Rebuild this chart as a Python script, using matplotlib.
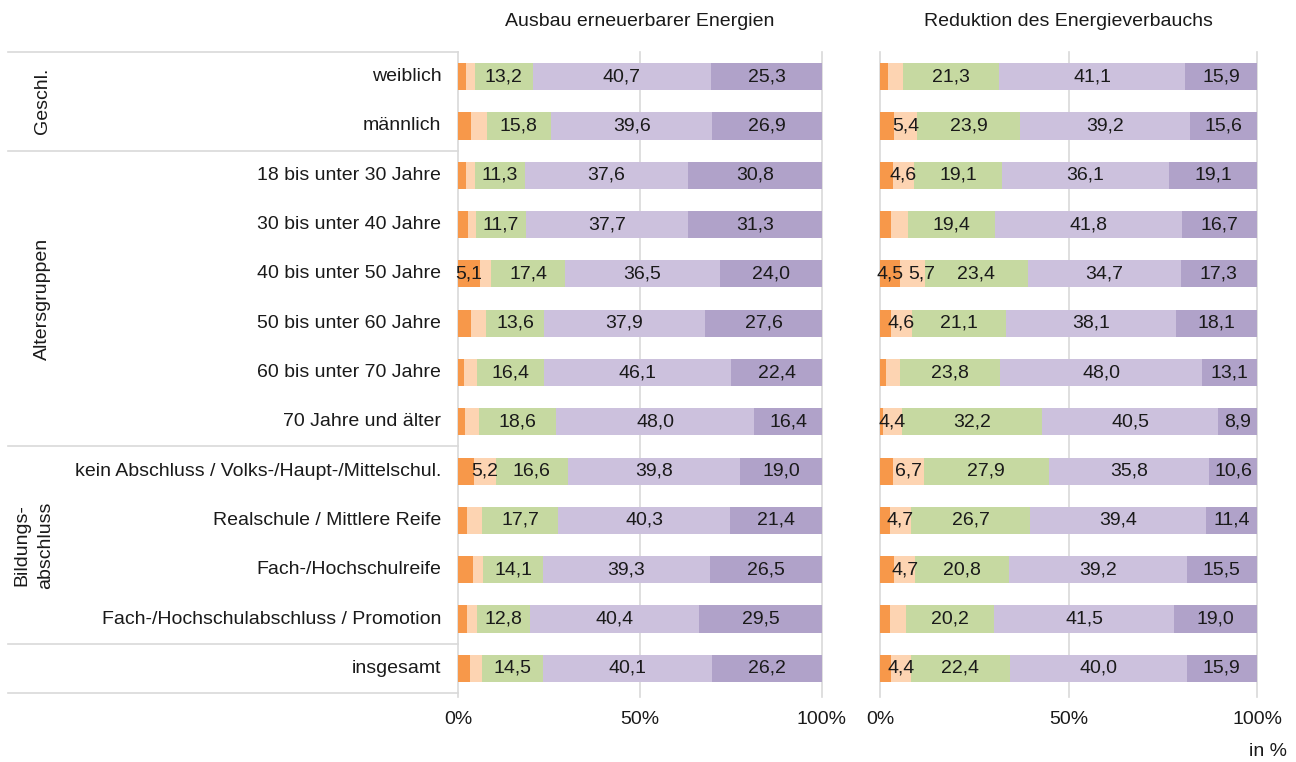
import matplotlib
matplotlib.use("Agg")
import matplotlib.pyplot as plt
import numpy as np

plt.rcParams['font.family'] = ['Liberation Sans', 'DejaVu Sans']

categories = [
    "weiblich", "männlich",
    "18 bis unter 30 Jahre", "30 bis unter 40 Jahre", "40 bis unter 50 Jahre",
    "50 bis unter 60 Jahre", "60 bis unter 70 Jahre", "70 Jahre und älter",
    "kein Abschluss / Volks-/Haupt-/Mittelschul.", "Realschule / Mittlere Reife",
    "Fach-/Hochschulreife", "Fach-/Hochschulabschluss / Promotion",
    "insgesamt",
]

groups = [("Geschl.", 0, 1), ("Altersgruppen", 2, 7), ("Bildungs-\nabschluss", 8, 11)]

titles = ["Ausbau erneuerbarer Energien", "Reduktion des Energieverbauchs"]

# five answer levels per row, left to right
ausbau_s1 = [1.9, 3.3, 1.9, 2.3, 5.1, 3.0, 1.4, 1.6, 3.6, 2.2, 3.5, 2.2, 2.8]
ausbau_s2 = [1.9, 3.7, 2.1, 1.8, 2.7, 3.7, 3.4, 3.5, 5.2, 3.5, 2.5, 2.3, 2.8]
ausbau_s3 = [13.2, 15.8, 11.3, 11.7, 17.4, 13.6, 16.4, 18.6, 16.6, 17.7, 14.1, 12.8, 14.5]
ausbau_s4 = [40.7, 39.6, 37.6, 37.7, 36.5, 37.9, 46.1, 48.0, 39.8, 40.3, 39.3, 40.4, 40.1]
ausbau_s5 = [25.3, 26.9, 30.8, 31.3, 24.0, 27.6, 22.4, 16.4, 19.0, 21.4, 26.5, 29.5, 26.2]

reduktion_s1 = [1.8, 3.2, 2.8, 2.5, 4.5, 2.5, 1.4, 0.7, 3.0, 2.2, 3.1, 2.3, 2.5]
reduktion_s2 = [3.3, 5.4, 4.6, 3.8, 5.7, 4.6, 3.4, 4.4, 6.7, 4.7, 4.7, 3.7, 4.4]
reduktion_s3 = [21.3, 23.9, 19.1, 19.4, 23.4, 21.1, 23.8, 32.2, 27.9, 26.7, 20.8, 20.2, 22.4]
reduktion_s4 = [41.1, 39.2, 36.1, 41.8, 34.7, 38.1, 48.0, 40.5, 35.8, 39.4, 39.2, 41.5, 40.0]
reduktion_s5 = [15.9, 15.6, 19.1, 16.7, 17.3, 18.1, 13.1, 8.9, 10.6, 11.4, 15.5, 19.0, 15.9]

xticks = [0, 50, 100]
xticklabels = ["0%", "50%", "100%"]

colors = ["#F7984A", "#FDD4B2", "#C6D9A1", "#CCC1DD", "#B0A2C9"]
grid_col = "#D9D9D9"
text_col = "#1a1a1a"
fs = 14

panels = [
    [ausbau_s1, ausbau_s2, ausbau_s3, ausbau_s4, ausbau_s5],
    [reduktion_s1, reduktion_s2, reduktion_s3, reduktion_s4, reduktion_s5],
]

W, H = 1296, 762
fig = plt.figure(figsize=(W / 100, H / 100), dpi=100)
renderer = fig.canvas.get_renderer()

y_top, y_bot = 52, 693
ax_rects = [(458, 822), (880, 1257)]
n = len(categories)
ypos = np.arange(n)

axes = []
for (x0, x1), series, title in zip(ax_rects, panels, titles):
    ax = fig.add_axes([x0 / W, 1 - y_bot / H, (x1 - x0) / W, (y_bot - y_top) / H])
    axes.append(ax)
    ax.set_xlim(0, 100)
    ax.set_ylim(n - 0.5, -0.5)
    px_per_unit = (x1 - x0) / 100
    data = np.array(series, dtype=float)
    totals = data.sum(axis=0)
    shares = data / totals * 100
    left = np.zeros(n)
    last_right = [None] * n  # right edge (px) of the previous label in each row
    for k in range(data.shape[0]):
        ax.barh(ypos, shares[k], left=left, height=0.55, color=colors[k],
                edgecolor="none", zorder=2)
        for i in range(n):
            v = data[k, i]
            if v >= 4.0:
                t = ax.text(left[i] + shares[k, i] / 2, ypos[i],
                            f"{v:.1f}".replace(".", ","), ha="center", va="center",
                            fontsize=fs, color=text_col, zorder=3)
                bb = t.get_window_extent(renderer)
                if last_right[i] is not None and bb.x0 < last_right[i] + 5:
                    shift = (last_right[i] + 5 - bb.x0) / px_per_unit
                    t.set_x(left[i] + shares[k, i] / 2 + shift)
                    bb = t.get_window_extent(renderer)
                last_right[i] = bb.x1
        left += shares[k]
    ax.set_xticks(xticks)
    ax.set_xticklabels(xticklabels, fontsize=fs, color=text_col)
    ax.tick_params(axis="x", length=0, pad=13)
    ax.set_yticks([])
    for s in ax.spines.values():
        s.set_visible(False)
    for xv in xticks:
        ax.axvline(xv, color=grid_col, lw=1.2, zorder=1, ymin=-0.006, ymax=1.0,
                   clip_on=False)
    ax.set_title(title, fontsize=fs, color=text_col, pad=19)

ax0 = axes[0]
# category labels
for i, c in enumerate(categories):
    ax0.text(-4.6, i, c, ha="right", va="center", fontsize=fs, color=text_col)

# group separators in the label column
x_left = (8 - 458) / 364 * 100
seps = [-0.5, 1.5, 7.5, 11.5, 12.5]
for s in seps:
    ax0.plot([x_left, 0], [s, s], color=grid_col, lw=1.2, clip_on=False, zorder=1)

for label, a, b in groups:
    two_line = "\n" in label
    xg = 34 if two_line else 42
    ax0.text((xg - 458) / 364 * 100, (a + b) / 2, label, rotation=90, ha="center",
             va="center", fontsize=fs, color=text_col,
             linespacing=1.55 if two_line else 1.2)

fig.text(1287 / W, 1 - 752 / H, "in %", ha="right", va="center", fontsize=fs,
         color=text_col)

fig.savefig("out.png", dpi=100)
